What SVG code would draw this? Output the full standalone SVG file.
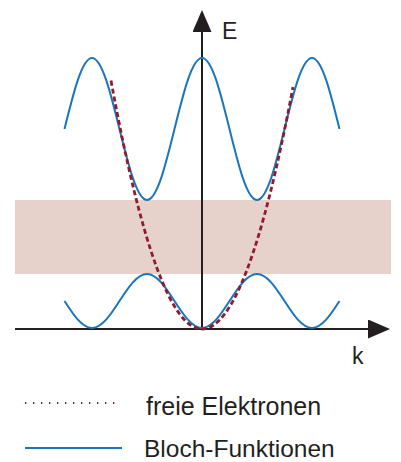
<svg xmlns="http://www.w3.org/2000/svg" width="401" height="462" viewBox="0 0 401 462">
<style>
.axis{stroke:#231f20;stroke-width:2;fill:none}
.bloch{stroke:#1b75bc;stroke-width:2;fill:none}
.free{stroke:#8e1c2e;stroke-width:2.8;fill:none;stroke-dasharray:5 3}
.lbl{font-family:"Liberation Sans",Arial,sans-serif;fill:#231f20}
</style>
<defs>
<marker id="arrow" markerUnits="userSpaceOnUse" markerWidth="22" markerHeight="19" refX="18" refY="9.5" orient="auto">
<path d="M0,0 L22,9.5 L0,19 z" fill="#231f20"/>
</marker>
</defs>
<rect id="band" x="15" y="200" width="376" height="74" fill="#e6d1cb"/>
<g id="axes">
<line class="axis" x1="202" y1="329" x2="202" y2="14" marker-end="url(#arrow)"/>
<line class="axis" x1="15" y1="329" x2="386" y2="329" marker-end="url(#arrow)"/>
<text class="lbl" x="222" y="39" font-size="23">E</text>
<text class="lbl" x="352" y="364" font-size="23">k</text>
</g>
<g id="curves">
<path class="bloch" d="M64.5,129 C73.47,92.63 82.05,58 92,58 C101.95,58 110.53,92.63 119.5,129 C128.47,165.37 137.05,200 147,200 C156.95,200 165.53,165.37 174.5,129 C183.47,92.63 192.05,58 202,58 C211.95,58 220.53,92.63 229.5,129 C238.47,165.37 247.05,200 257,200 C266.95,200 275.53,165.37 284.5,129 C293.47,92.63 302.05,58 312,58 C321.95,58 330.53,92.63 339.5,129"/>
<path class="bloch" d="M64.5,301 C73.47,314.83 82.05,328 92,328 C101.95,328 110.53,314.83 119.5,301 C128.47,287.17 137.05,274 147,274 C156.95,274 165.53,287.17 174.5,301 C183.47,314.83 192.05,328 202,328 C211.95,328 220.53,314.83 229.5,301 C238.47,287.17 247.05,274 257,274 C266.95,274 275.53,287.17 284.5,301 C293.47,314.83 302.05,328 312,328 C321.95,328 330.53,314.83 339.5,301"/>
<path class="free" d="M111,80.6 Q156.5,329 202,329 Q247.5,329 293,87"/>
</g>
<g id="legend">
<line x1="25" y1="403" x2="121" y2="403" stroke="#8e1c2e" stroke-width="1.8" stroke-dasharray="1.4 6.6"/>
<text class="lbl" x="146" y="415" font-size="25">freie Elektronen</text>
<line class="bloch" x1="25" y1="448" x2="122" y2="448"/>
<text class="lbl" x="144" y="457" font-size="24.5">Bloch-Funktionen</text>
</g>
</svg>
